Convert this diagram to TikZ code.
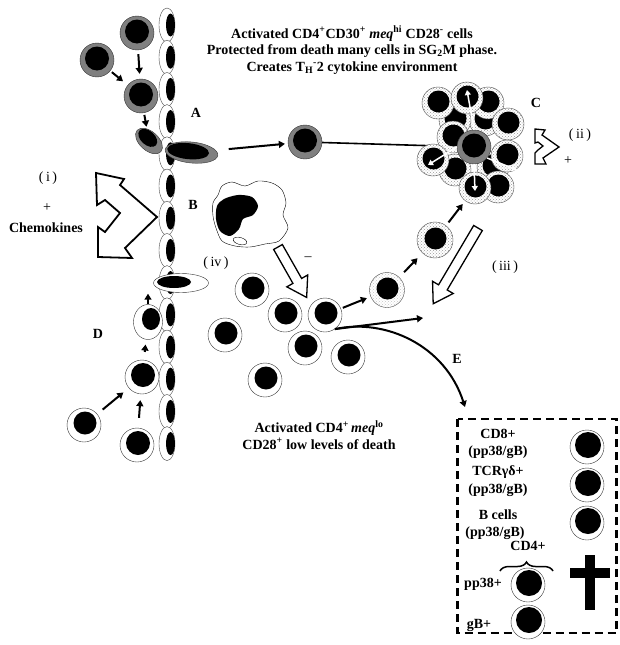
\documentclass[tikz,border=0pt]{standalone}
\usepackage{fontspec}
\setmainfont{Liberation Serif}
\usetikzlibrary{arrows.meta,shapes.geometric,patterns,decorations.pathreplacing}

\tikzset{
  cellwall/.style={circle, draw=black!80, fill=white, minimum size=34pt, inner sep=0pt},
  graycell/.style={circle, draw=black!80, fill=gray, minimum size=34pt, inner sep=0pt},
  dotcell/.style={circle, draw=black!70, preaction={fill=white}, pattern=crosshatch dots, pattern color=gray!80, minimum size=32pt, inner sep=0pt},
  endo/.style={draw=black!70, fill=white},
  flow/.style={-{Triangle[length=6pt,width=7pt]}, line width=2pt},
  bright/.style={draw=white, -{Triangle[length=5pt,width=6pt]}, line width=1.5pt},
  bigarrow/.style={draw, fill=white, line width=1.3pt, line join=miter},
  chev/.style={draw, fill=white, line width=1.8pt, line join=miter},
  txt/.style={font=\fontsize{14}{16.5}\selectfont\bfseries, align=center, inner sep=0pt},
  numtag/.style={font=\fontsize{14}{16}\selectfont, inner sep=0pt}
}

% cell with a dark nucleus: [node options]{name}{position}{nucleus radius}
\newcommand{\tcell}[4][]{%
  \node[cellwall,#1] (#2) at (#3) {};
  \fill ([shift={(1,-2)}]#2.center) circle (#4);}
% CD30+ cell
\newcommand{\gcell}[3][]{%
  \node[graycell,#1] (#2) at (#3) {};
  \fill ([shift={(0,-1.5)}]#2.center) circle (12);}
% dividing cell, dotted cytoplasm
\newcommand{\scell}[3][]{%
  \node[dotcell,#1] (#2) at (#3) {};
  \fill ([shift={(0.5,-1.5)}]#2.center) circle (11);}
\newcommand{\romtag}[1]{(\hspace{2.5pt}#1\hspace{2.5pt})}
% open block arrow: start, angle, length
\newcommand{\hollowarrow}[3]{%
  \begin{scope}[shift={(#1)}, rotate=#2]
    \draw[bigarrow] (0,-5) -- ({#3-19},-5) -- ({#3-19},-12) -- (#3,0) -- ({#3-19},12) -- ({#3-19},5) -- (0,5) -- cycle;
  \end{scope}}

\begin{document}
\begin{tikzpicture}[x=1pt,y=-1pt]
\useasboundingbox (0,0) rectangle (619,645);

% vessel wall
\foreach \k in {0,...,13}{
  \draw[endo] (167,{25+32.2*\k}) ellipse (8 and 17);
  \fill (170.5,{25+32.2*\k}) ellipse (4.5 and 11.5);
}

% CD30+ cells crossing the wall (A)
\gcell{g1}{137,33}
\gcell{g2}{97,60}
\gcell{g3}{141,96}
\node[graycell, ellipse, minimum width=32pt, minimum height=19pt, rotate=-42] (g4) at (149,141) {};
\fill[rotate around={-42:(149,141)}] (146,139.5) ellipse (11 and 7);
\node[graycell, ellipse, minimum width=53pt, minimum height=21pt, rotate=-6] (amig) at (191.5,152.5) {};
\fill[rotate around={-6:(191.5,152.5)}] (188,151.5) ellipse (21 and 8);

\draw[flow, shorten <=4pt, shorten >=5pt] (g1) -- (g3);
\draw[flow, shorten <=2pt, shorten >=6pt] (g2) -- (g3);
\draw[flow, shorten <=2pt, shorten >=2pt] (g3) -- (g4);

\gcell{gmove}{305,142}
\draw[flow, shorten <=13pt, shorten >=3pt] (amig) -- (gmove);
\coordinate (core) at (474,147);
\draw[line width=1.6pt] (gmove) -- (core);

% proliferating cluster (C)
\scell{k1}{485,120}
\scell{k2}{455,120}
\scell{k3}{493,167}
\scell{k4}{455,170}
\scell{k5}{438,103}
\scell{k6}{488,103}
\scell{k7}{508,124}
\scell{k8}{467,98}
\scell{k9}{453,137}
\scell{k10}{433,160}
\scell{k11}{507,156}
\scell{k12}{498,187}
\scell{k13}{475,188}
\gcell{gcore}{474,147}
\draw[bright] (gcore.north) -- ([shift={(0,-8)}]k8.center);
\draw[bright] (gcore.west) -- ([shift={(-5,5)}]k10.center);
\draw[bright] (gcore.south) -- ([shift={(0,3)}]k13.center);
\draw[bright] (gcore.-40) -- ([shift={(10,14)}]k11.center);

% macrophage (B)
\draw[thin] plot[smooth cycle] coordinates {(222,186) (232,182) (245,186) (258,181) (272,183) (282,190) (286,203) (283,215) (288,228) (279,241) (265,244) (250,247) (235,246) (222,241) (216,228) (213,216) (213,203) (218,195)};
\fill plot[smooth cycle] coordinates {(224,199) (238,195) (252,197) (258,206) (253,215) (243,219) (239,229) (230,236) (220,231) (216,219) (217,206)};
\draw[thin, rotate around={-15:(240,241)}] (240,241) ellipse (7 and 3.5);

\hollowarrow{278,247}{-60.4}{58}
\hollowarrow{478,228}{-120.6}{88}

% CD4+ meq lo cells
\tcell{m1}{252,290}{11.5}
\tcell{m2}{285,315}{11.5}
\tcell{m3}{325,315}{11.5}
\tcell{m4}{225,335}{11.5}
\tcell{m5}{305,348}{11.5}
\tcell{m6}{348,357}{11.5}
\tcell{m7}{265,380}{11.5}

\scell[pattern color=gray!45, minimum size=35pt]{tr}{387,290}
\scell[minimum size=36pt]{lone}{435,240}
\draw[flow, shorten <=2pt, shorten >=4pt] (m3) -- (tr);
\draw[flow, shorten <=7pt, shorten >=7pt] (tr) -- (lone);
\draw[flow, shorten <=4pt, shorten >=4pt] (lone) -- (k13);

\coordinate (gather) at (423,318);
\coordinate (einto) at (465,407);
\draw[flow] (m3.-55) -- (gather);
\draw[flow] (m3.-55) .. controls (385,318) and (445,345) .. (einto);

% cells entering from the blood (D)
\node[cellwall, ellipse, minimum width=55pt, minimum height=19pt] (dmig) at (181,283) {};
\fill (174,282) ellipse (17 and 6);
\node[cellwall, ellipse, minimum width=29pt, minimum height=35pt] (d1) at (148,322) {};
\fill (151,319) ellipse (9 and 11);
\tcell{d2}{142,377}{12}
\tcell{d3}{84,425}{11.5}
\tcell{d4}{137,445}{12}
\draw[flow, shorten <=10pt, shorten >=6pt] (d4) -- (d2);
\draw[flow, shorten <=7pt, shorten >=7pt] (d3) -- (d2);
\draw[flow, shorten <=8pt, shorten >=5pt] (d2) -- (d1);
\draw[flow, shorten >=1pt] (d1.north) -- (d1.north |- dmig.south);

% chemokine signals
\draw[chev] (96,173) -- (124,179) -- (120,185) -- (157,217) -- (125,248) -- (132,258) -- (98,257) -- (98,227) -- (105,232) -- (120,213) -- (105,200) -- (97,205) -- cycle;
\draw[chev, line width=1.3pt] (535,129) -- (545,130) -- (542,135) -- (559,147) -- (543,158) -- (546,164) -- (535,164) -- (535,153) -- (538,150) -- (543,146) -- (538,142) -- (535,143) -- cycle;

% labels
\node[txt] (head) at (352,50) {Activated CD4\textsuperscript{+}CD30\textsuperscript{+} \textit{meq}\textsuperscript{hi} CD28\textsuperscript{-} cells\\
  Protected from death many cells in SG\textsubscript{2}M phase.\\
  Creates T\textsubscript{H}\textsuperscript{-}2 cytokine environment};
\node[txt] (lowtxt) at (319,435) {Activated CD4\textsuperscript{+}\,\textit{meq}\textsuperscript{lo}\\CD28\textsuperscript{+} low levels of death};
\node[txt] (la) at (196,113) {A};
\node[txt] (lb) at (193,205) {B};
\node[txt] (lc) at (536,103) {C};
\node[txt] (ld) at (98,334) {D};
\node[txt] (le) at (457,359) {E};
\node[numtag] (ti) at (48,178) {\romtag{i}};
\node[numtag] (tiplus) at (47,208) {+};
\node[txt] (chemo) at (46,228) {Chemokines};
\node[numtag] (tii) at (580,135) {\romtag{ii}};
\node[numtag] (tiiplus) at (568,161) {+};
\node[numtag] (tiii) at (505,267) {\romtag{iii}};
\node[numtag] (tiv) at (216,263) {\romtag{iv}};
\node[numtag] (tminus) at (308,259) {--};

% cytotoxic targets (E)
\draw[line width=2.3pt, dash pattern=on 8pt off 5pt] (457.5,419) rectangle (616.5,633);
\node[txt] (t1) at (498,434) {CD8+};
\node[txt] (t2) at (498,452) {(pp38/gB)};
\node[txt] (t3) at (498,472) {TCRγδ+};
\node[txt] (t4) at (498,490) {(pp38/gB)};
\node[txt] (t5) at (498,515) {B cells};
\node[txt] (t6) at (495,533) {(pp38/gB)};
\node[txt] (t7) at (528,546) {CD4+};
\node[txt] (t8) at (483,584) {pp38+};
\node[txt] (t9) at (479,625) {gB+};
\draw[line width=1.5pt, decorate, decoration={brace, amplitude=9pt}] (500,571) -- (553,571);
\tcell{b1}{587,447}{13}
\tcell{b2}{587,485}{13}
\tcell{b3}{587,523}{13}
\tcell{b4}{528,585}{13}
\tcell{b5}{528,622}{13}
\fill (585,555) rectangle (595,610);
\fill (570,568) rectangle (610,578);

\end{tikzpicture}
\end{document}
